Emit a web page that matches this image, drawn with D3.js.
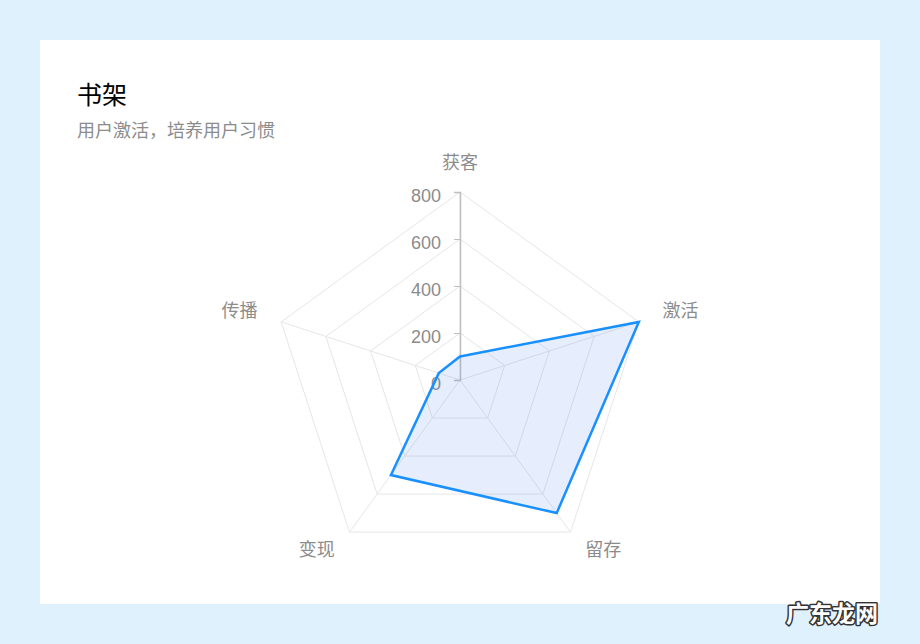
<!DOCTYPE html>
<html>
<head>
<meta charset="utf-8">
<script src="https://cdn.jsdelivr.net/npm/d3@7"></script>
<style>
  html, body { margin: 0; padding: 0; background: #dff1fd; }
  svg { display: block; }
  text { font-family: "Helvetica Neue", Arial, "Noto Sans CJK SC", sans-serif; }
</style>
</head>
<body>
<script>
// 指标 / 数值
var indicators = ["获客", "激活", "留存", "变现", "传播"];
var values = [100, 800, 700, 500, 95];
var tickValues = [0, 200, 400, 600, 800];

var w = 920;
var h = 644;
var cx = 460;
var cy = 380;
var R = 188;

var svg = d3.select("body")
            .append("svg")
            .attr("width", w)
            .attr("height", h);

// card
svg.append("rect")
   .attr("x", 40)
   .attr("y", 40)
   .attr("width", 840)
   .attr("height", 564)
   .attr("fill", "#fff");

svg.append("text")
   .attr("x", 77)
   .attr("y", 104)
   .attr("font-size", 25)
   .attr("fill", "#000")
   .text("书架");

svg.append("text")
   .attr("x", 77)
   .attr("y", 137)
   .attr("font-size", 18)
   .attr("fill", "#8c8c8c")
   .text("用户激活，培养用户习惯");

var r = d3.scaleLinear().domain([0, 800]).range([0, R]);
var angle = d3.scaleLinear().domain([0, indicators.length]).range([0, 2 * Math.PI]);

var g = svg.append("g").attr("transform", "translate(" + cx + "," + cy + ")");

// grid rings
var ring = d3.lineRadial()
             .angle(function(d, i){ return angle(i); })
             .radius(function(d){ return r(d); })
             .curve(d3.curveLinearClosed);

g.selectAll(".ring")
 .data(tickValues.filter(function(t){ return t > 0; }))
 .enter()
 .append("path")
 .attr("class", "ring")
 .attr("d", function(t){ return ring(indicators.map(function(){ return t; })); })
 .attr("fill", "none")
 .attr("stroke", "#e6e6e6")
 .attr("stroke-width", 1);

// spokes
g.selectAll(".spoke")
 .data(indicators)
 .enter()
 .append("line")
 .attr("class", "spoke")
 .attr("x1", 0)
 .attr("y1", 0)
 .attr("x2", function(d, i){ return r(800) * Math.sin(angle(i)); })
 .attr("y2", function(d, i){ return -r(800) * Math.cos(angle(i)); })
 .attr("stroke", "#e6e6e6")
 .attr("stroke-width", 1);

// value axis along first spoke
var y = d3.scaleLinear().domain([0, 800]).range([0, -R]);
var axis = g.append("g")
            .call(d3.axisLeft(y).tickValues(tickValues).tickSize(6).tickPadding(13));
axis.select(".domain").attr("stroke", "#bfbfbf").attr("stroke-width", 1.5);
axis.selectAll(".tick line").attr("stroke", "#bfbfbf");
axis.selectAll(".tick text")
    .attr("fill", "#8c8c8c")
    .attr("font-size", 18)
    .attr("dy", "0.5em")
    .attr("font-family", "\"Helvetica Neue\", Arial, sans-serif");

// data area
var area = d3.lineRadial()
             .angle(function(d, i){ return angle(i); })
             .radius(function(d){ return r(d); })
             .curve(d3.curveLinearClosed);

g.append("path")
 .datum(values)
 .attr("d", area)
 .attr("fill", "rgba(100,140,240,0.16)")
 .attr("stroke", "#1890ff")
 .attr("stroke-width", 2.5)
 .attr("stroke-linejoin", "miter");

// indicator labels
var labelR = R + 25;
g.selectAll(".label")
 .data(indicators)
 .enter()
 .append("text")
 .attr("class", "label")
 .attr("x", function(d, i){ return labelR * Math.sin(angle(i)); })
 .attr("y", function(d, i){ return -labelR * Math.cos(angle(i)) + (i === 0 ? -4 : -3); })
 .attr("dy", "0.35em")
 .attr("text-anchor", function(d, i){
   var s = Math.sin(angle(i));
   return Math.abs(s) < 0.01 ? "middle" : (s > 0 ? "start" : "end");
 })
 .attr("font-size", 18)
 .attr("fill", "#8c8c8c")
 .text(function(d){ return d; });

// watermark
svg.append("text")
   .attr("x", 786)
   .attr("y", 622)
   .attr("font-size", 23)
   .attr("font-weight", "bold")
   .attr("font-family", "\"Noto Sans CJK SC\", sans-serif")
   .attr("fill", "#fff")
   .attr("stroke", "#333")
   .attr("stroke-width", 3)
   .attr("paint-order", "stroke")
   .attr("stroke-linejoin", "round")
   .text("广东龙网");
</script>
</body>
</html>
